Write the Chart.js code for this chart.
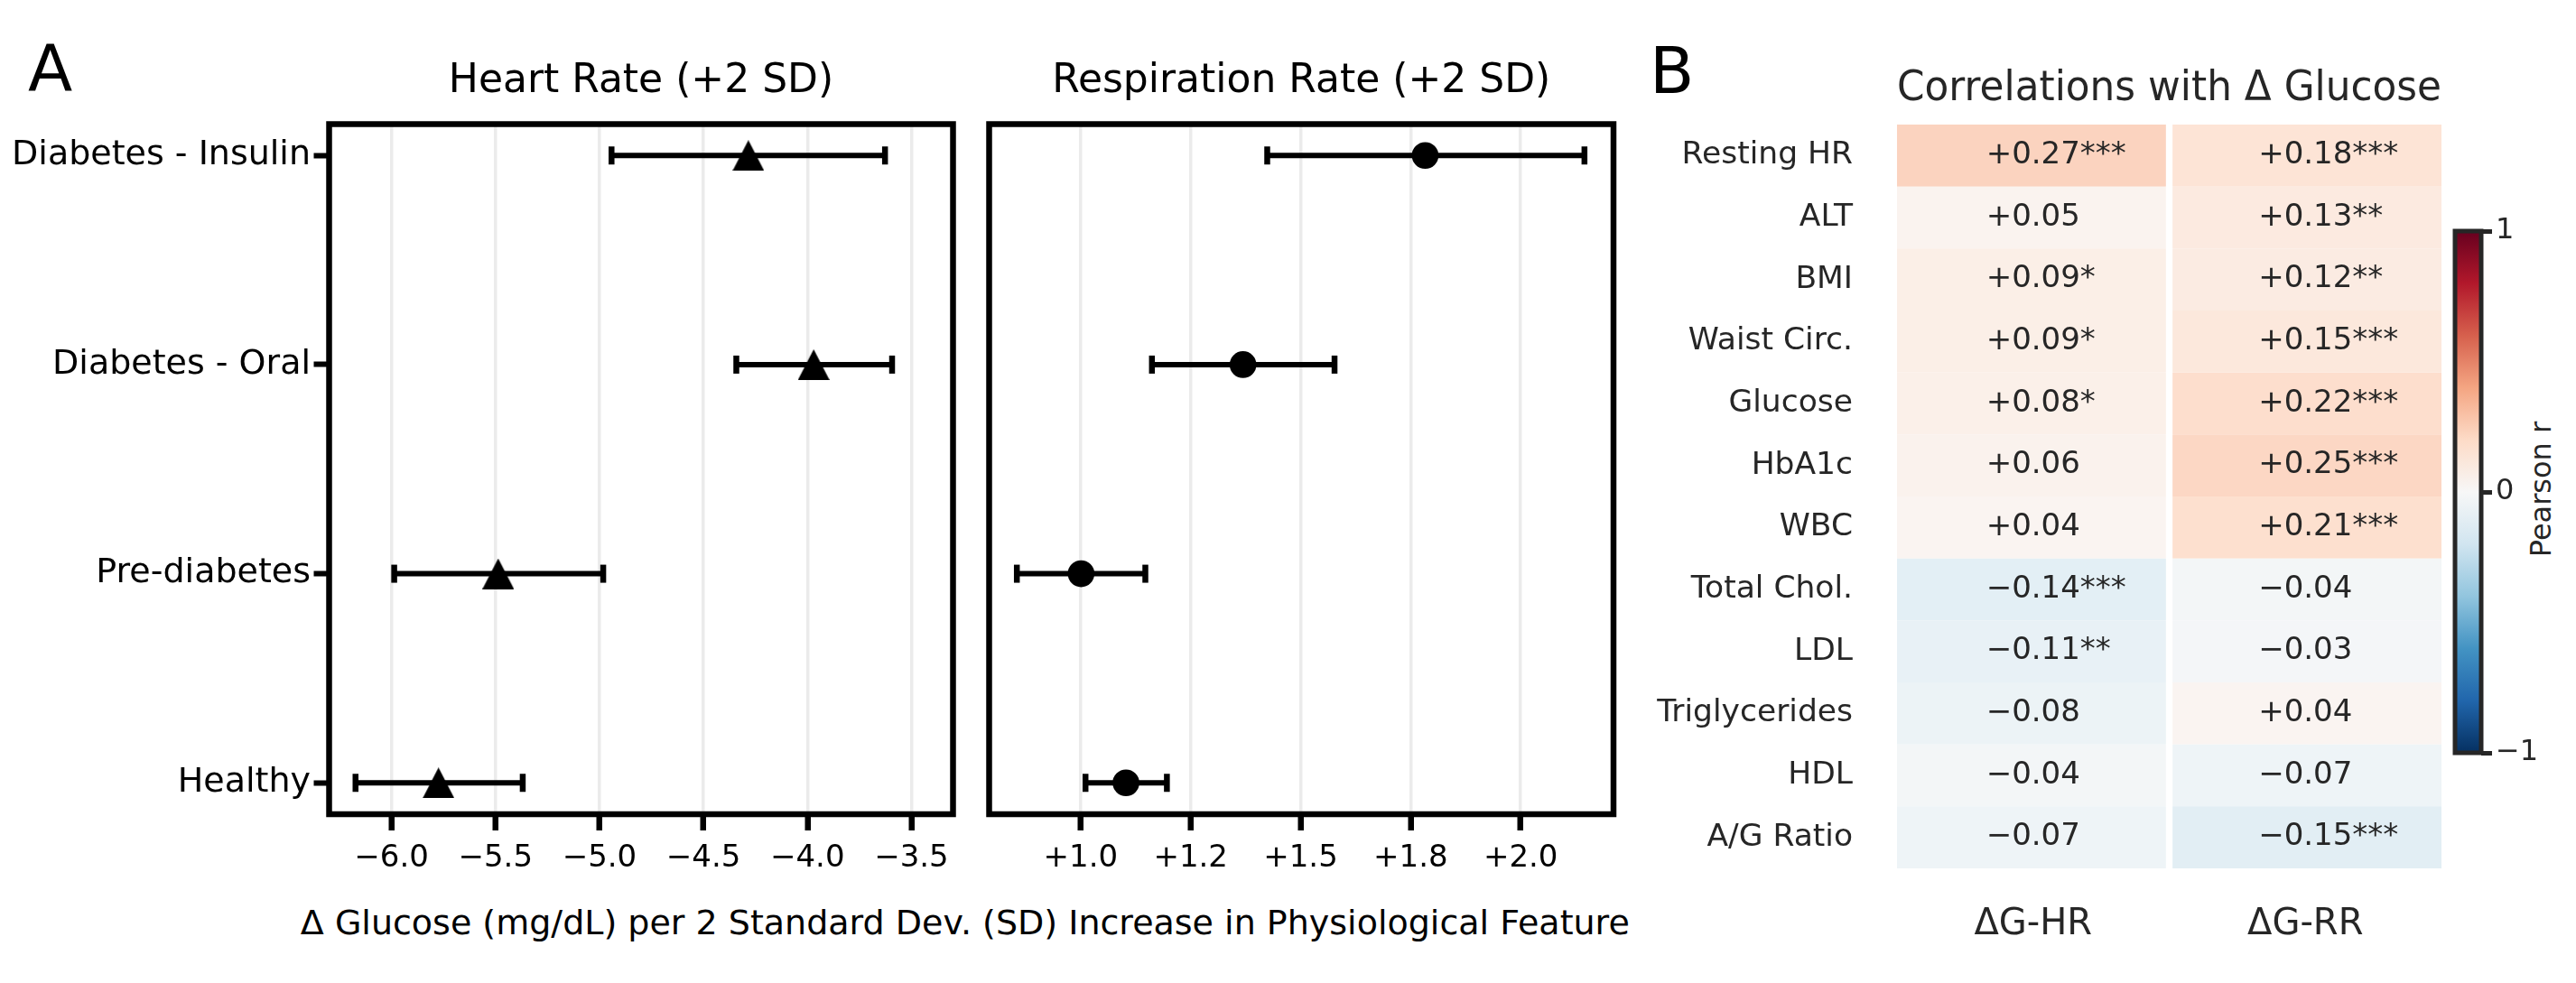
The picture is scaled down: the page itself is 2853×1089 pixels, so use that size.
<!DOCTYPE html>
<html><head><meta charset="utf-8">
<script src="https://cdn.jsdelivr.net/npm/chart.js@4.4.1/dist/chart.umd.min.js"></script>
<style>
html,body{margin:0;padding:0;background:#fff;width:2853px;height:1089px;overflow:hidden;font-family:'DejaVu Sans';}
canvas{position:absolute;}
.t{position:absolute;white-space:nowrap;font-family:'DejaVu Sans';}
</style></head><body>
<div class="t" style="left:31px;top:39px;font-size:72px;line-height:72px;color:#000">A</div>
<div class="t" style="left:1827px;top:42px;font-size:72px;line-height:72px;color:#000">B</div>
<div class="t" style="left:1068.8px;top:1003.4px;font-size:38px;line-height:38px;transform:translateX(-50%);color:#000">Δ Glucose (mg/dL) per 2 Standard Dev. (SD) Increase in Physiological Feature</div>
<div class="t" style="left:2813.5px;top:541.5px;font-size:32px;line-height:32px;transform:translate(-50%,-50%) rotate(-90deg);color:#262626">Pearson r</div>
<canvas id="hr" style="left:0px;top:0px;width:1075px;height:1000px" width="1075" height="1000"></canvas>
<canvas id="rr" style="left:1080px;top:0px;width:730px;height:1000px" width="730" height="1000"></canvas>
<canvas id="hm" style="left:1830px;top:0px;width:874px;height:1089px" width="874" height="1089"></canvas>
<canvas id="cb" style="left:2704px;top:0px;width:149px;height:1089px" width="149" height="1089"></canvas>
<script>
// ---------- data ----------
const groups = ['Diabetes - Insulin', 'Diabetes - Oral', 'Pre-diabetes', 'Healthy'];
const hrMean = [-4.284, -3.970, -5.487, -5.774];
const hrLow  = [-4.942, -4.342, -5.987, -6.173];
const hrHigh = [-3.627, -3.593, -4.982, -5.369];
const rrMean = [1.783, 1.369, 1.001, 1.103];
const rrLow  = [1.424, 1.162, 0.855, 1.011];
const rrHigh = [2.145, 1.577, 1.147, 1.196];
const hrTickValues = [-6.0, -5.5, -5.0, -4.5, -4.0, -3.5];
const hrTickLabels = ['−6.0', '−5.5', '−5.0', '−4.5', '−4.0', '−3.5'];
const rrTickValues = [1.0, 1.25, 1.5, 1.75, 2.0];
const rrTickLabels = ['+1.0', '+1.2', '+1.5', '+1.8', '+2.0'];
const features = ['Resting HR', 'ALT', 'BMI', 'Waist Circ.', 'Glucose', 'HbA1c', 'WBC', 'Total Chol.', 'LDL', 'Triglycerides', 'HDL', 'A/G Ratio'];
const corrHR  = [0.27, 0.05, 0.09, 0.09, 0.08, 0.06, 0.04, -0.14, -0.11, -0.08, -0.04, -0.07];
const starsHR = ['***', '', '*', '*', '*', '', '', '***', '**', '', '', ''];
const corrRR  = [0.18, 0.13, 0.12, 0.15, 0.22, 0.25, 0.21, -0.04, -0.03, 0.04, -0.07, -0.15];
const starsRR = ['***', '**', '**', '***', '***', '***', '***', '', '', '', '', '***'];
const corrColumns = ['ΔG-HR', 'ΔG-RR'];
const cbTickValues = [-1, 0, 1];
const cbTickLabels = ['−1', '0', '1'];

// ---------- helpers ----------
Chart.defaults.font.family = "'DejaVu Sans'";
const RDBU_R = ['#053061','#2166ac','#4393c3','#92c5de','#d1e5f0','#f7f7f7','#fddbc7','#f4a582','#d6604d','#b2182b','#67001f'];
function hex(h){return [parseInt(h.slice(1,3),16),parseInt(h.slice(3,5),16),parseInt(h.slice(5,7),16)];}
function cellColor(v, alpha){
  const t = Math.max(0, Math.min(1, (v + 1) / 2)) * 10;
  const i = Math.min(9, Math.floor(t)), f = t - i;
  const a = hex(RDBU_R[i]), b = hex(RDBU_R[i+1]);
  const c = a.map((x,k)=> x + (b[k]-x)*f).map(x=> Math.round(x*alpha + 255*(1-alpha)));
  return 'rgb(' + c.join(',') + ')';
}
const triImg = (()=>{const c=document.createElement('canvas'); c.width=35; c.height=34; const g=c.getContext('2d'); g.fillStyle='#000'; g.beginPath(); g.moveTo(17.5,0); g.lineTo(35,34); g.lineTo(0,34); g.closePath(); g.fill(); return c;})();

function errorBars(lo, hi){
  return {id:'errorBars', beforeDatasetsDraw(chart){
    const {ctx, scales:{x, y}} = chart;
    ctx.save(); ctx.strokeStyle='#000'; ctx.lineCap='butt';
    lo.forEach((l,i)=>{
      const py = y.getPixelForValue(i), x1 = x.getPixelForValue(l), x2 = x.getPixelForValue(hi[i]);
      ctx.lineWidth = 6; ctx.beginPath(); ctx.moveTo(x1,py); ctx.lineTo(x2,py); ctx.stroke();
      ctx.lineWidth = 6.5;
      [x1,x2].forEach(px=>{ctx.beginPath(); ctx.moveTo(px,py-10); ctx.lineTo(px,py+10); ctx.stroke();});
    });
    ctx.restore();
  }};
}
const frame = {id:'frame', afterDraw(chart){
  const {ctx, chartArea:a} = chart; ctx.save(); ctx.strokeStyle='#000'; ctx.lineWidth=6.5;
  ctx.strokeRect(a.left, a.top, a.right-a.left, a.bottom-a.top); ctx.restore();
}};
const common = {responsive:false, animation:false, events:[], devicePixelRatio:1};

function forestOptions(title, xmin, xmax, tv, tl, showY, pad){
  return Object.assign({}, common, {
    layout:{padding:pad},
    plugins:{legend:{display:false}, tooltip:{enabled:false},
      title:{display:true, text:title, color:'#000', font:{size:44, weight:'normal', lineHeight:1.2}, padding:{top:64.6, bottom:20.1}, fullSize:false}},
    scales:{
      x:{type:'linear', min:xmin, max:xmax,
        afterBuildTicks:s=>{s.ticks = tv.map(v=>({value:v}));},
        ticks:{callback:(v,i)=>tl[i], font:{size:34}, color:'#000', padding:10.4, maxRotation:0, autoSkip:false},
        grid:{color:'#ebebeb', lineWidth:3.5, drawTicks:true, tickLength:18, tickWidth:6.5, tickColor:'#000'},
        border:{display:false}, afterFit:s=>{s.height=98;}},
      y:{type:'linear', reverse:true, min:-0.15, max:3.15, display:showY,
        afterBuildTicks:s=>{s.ticks = groups.map((g,i)=>({value:i}));},
        ticks:{callback:(v,i)=>groups[i], font:{size:38}, color:'#000', padding:3.5, autoSkip:false},
        grid:{drawOnChartArea:false, drawTicks:true, tickLength:17, tickWidth:6, tickColor:'#000'},
        border:{display:false}, afterFit:s=>{s.width = showY ? 364.5 : 0;}}
    }
  });
}

// ---------- Heart rate ----------
new Chart(document.getElementById('hr'), {
  type:'scatter',
  data:{datasets:[{data: hrMean.map((v,i)=>({x:v, y:i})), pointStyle: triImg, pointRadius: 17, backgroundColor:'#000', borderWidth:0}]},
  options: forestOptions('Heart Rate (+2 SD)', -6.3, -3.3, hrTickValues, hrTickLabels, true, {left:0, right:19.5, top:0, bottom:0}),
  plugins:[errorBars(hrLow, hrHigh), frame]
});

// ---------- Respiration rate ----------
new Chart(document.getElementById('rr'), {
  type:'scatter',
  data:{datasets:[{data: rrMean.map((v,i)=>({x:v, y:i})), pointStyle:'circle', pointRadius: 14.8, backgroundColor:'#000', borderWidth:0}]},
  options: forestOptions('Respiration Rate (+2 SD)', 0.792, 2.211, rrTickValues, rrTickLabels, false, {left:15.5, right:23, top:0, bottom:0}),
  plugins:[errorBars(rrLow, rrHigh), frame]
});

// ---------- Heatmap ----------
const cellText = {id:'cellText', afterDatasetsDraw(chart){
  const ctx = chart.ctx; const sets = [[corrHR, starsHR], [corrRR, starsRR]];
  ctx.save(); ctx.font = "34px 'DejaVu Sans'"; ctx.fillStyle = '#262626'; ctx.textBaseline = 'middle';
  chart.data.datasets.forEach((ds, di)=>{
    chart.getDatasetMeta(di).data.forEach((el, i)=>{
      const cx = (el.x + el.base)/2, cy = el.y, v = sets[di][0][i];
      const num = (v >= 0 ? '+' : '−') + Math.abs(v).toFixed(2);
      ctx.textAlign = 'center'; ctx.fillText(num, cx, cy);
      const w = ctx.measureText(num).width;
      ctx.textAlign = 'left'; ctx.fillText(sets[di][1][i], cx + w/2, cy);
    });
  });
  ctx.restore();
}};
new Chart(document.getElementById('hm'), {
  type:'bar',
  data:{labels: features, datasets:[
    {data: features.map(()=>[0,1]), backgroundColor: corrHR.map(v=>cellColor(v,0.8)), borderColor:'#fff',
     borderWidth:{left:0,right:4,top:0,bottom:0}, borderSkipped:false, categoryPercentage:1, barPercentage:1, grouped:false},
    {data: features.map(()=>[1,2]), backgroundColor: corrRR.map(v=>cellColor(v,0.8)), borderColor:'#fff',
     borderWidth:{left:4,right:0,top:0,bottom:0}, borderSkipped:false, categoryPercentage:1, barPercentage:1, grouped:false}
  ]},
  options: Object.assign({}, common, {
    indexAxis:'y',
    layout:{padding:{left:0,right:0,top:0,bottom:0}},
    plugins:{legend:{display:false}, tooltip:{enabled:false},
      title:{display:true, text:'Correlations with Δ Glucose', color:'#262626', font:{size:46, weight:'normal', lineHeight:1.2}, padding:{top:71, bottom:11.8}, fullSize:false}},
    scales:{
      x:{type:'linear', min:0, max:2,
        afterBuildTicks:s=>{s.ticks = corrColumns.map((c,i)=>({value:i+0.5}));},
        ticks:{callback:(v,i)=>corrColumns[i], font:{size:40}, color:'#262626', padding:39, maxRotation:0, autoSkip:false},
        grid:{display:false, drawTicks:false}, border:{display:false}, afterFit:s=>{s.height=127;}},
      y:{type:'category', ticks:{font:{size:34.5}, color:'#262626', padding:49, autoSkip:false},
        grid:{display:false, drawTicks:false}, border:{display:false}, afterFit:s=>{s.width=271;}}
    }
  }),
  plugins:[cellText]
});

// ---------- Colorbar ----------
const gradientBar = {id:'gradientBar',
  beforeDatasetsDraw(chart){
    const {ctx, chartArea:a} = chart;
    const g = ctx.createLinearGradient(0, a.bottom, 0, a.top);
    RDBU_R.forEach((c,i)=>g.addColorStop(i/10, c));
    ctx.save(); ctx.fillStyle = g; ctx.fillRect(a.left, a.top, a.right-a.left, a.bottom-a.top); ctx.restore();
  },
  afterDraw(chart){
    const {ctx, chartArea:a} = chart;
    ctx.save(); ctx.strokeStyle='#262626'; ctx.lineWidth=5; ctx.strokeRect(a.left, a.top, a.right-a.left, a.bottom-a.top); ctx.restore();
  }};
new Chart(document.getElementById('cb'), {
  type:'scatter',
  data:{datasets:[]},
  options: Object.assign({}, common, {
    layout:{padding:{left:15, right:0, top:256, bottom:255}},
    plugins:{legend:{display:false}, tooltip:{enabled:false}},
    scales:{
      x:{type:'linear', display:false, min:0, max:1},
      y:{type:'linear', position:'right', min:-1, max:1,
        afterBuildTicks:s=>{s.ticks = cbTickValues.map(v=>({value:v}));},
        ticks:{callback:(v,i)=>cbTickLabels[i], font:{size:32}, color:'#262626', padding:4, autoSkip:false},
        grid:{drawOnChartArea:false, drawTicks:true, tickLength:12, tickWidth:5, tickColor:'#262626'},
        border:{display:false}, afterFit:s=>{s.width=105;}}
    }
  }),
  plugins:[gradientBar]
});
</script>
</body></html>
